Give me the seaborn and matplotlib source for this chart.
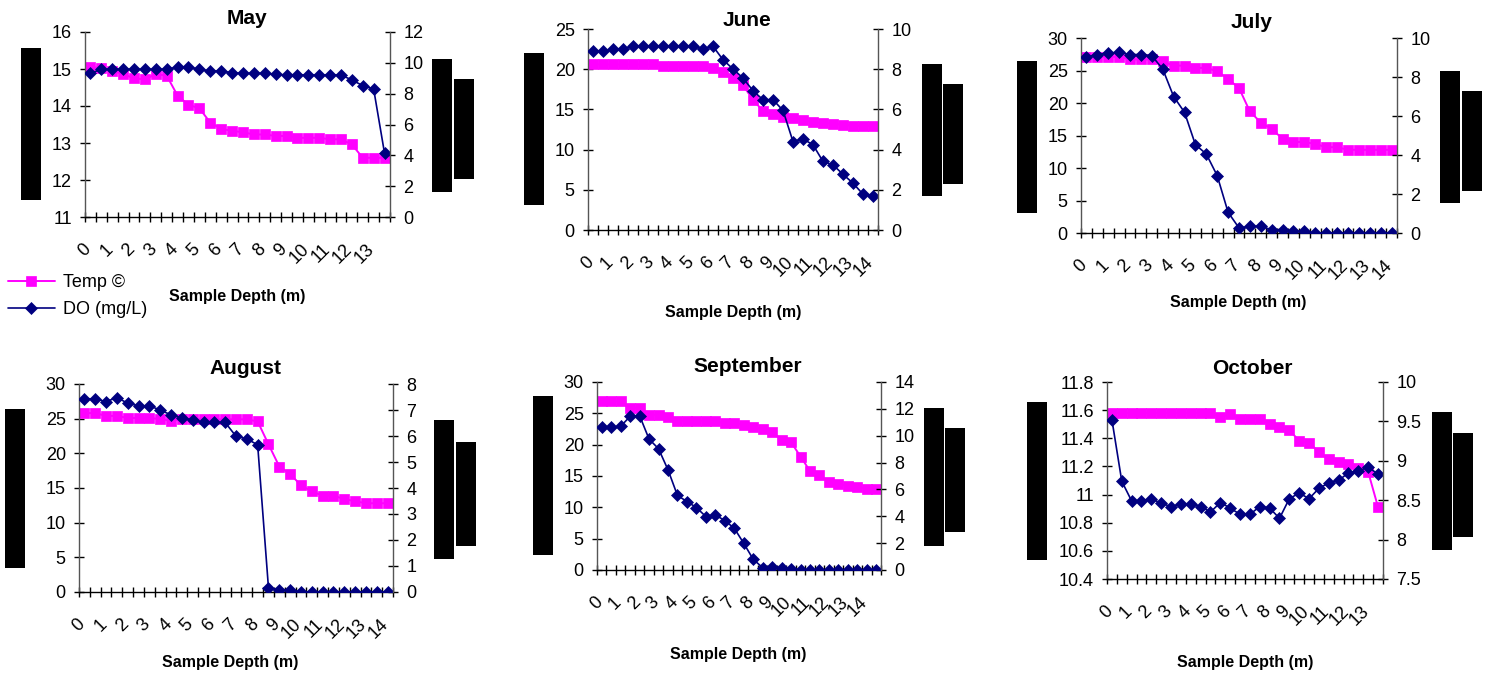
import matplotlib
matplotlib.use("Agg")
import matplotlib.pyplot as plt
import seaborn as sns
import pandas as pd
from matplotlib.patches import Rectangle
from matplotlib.ticker import FixedLocator, FuncFormatter, MultipleLocator
from matplotlib.transforms import ScaledTranslation

# ---------------- data ----------------
DEPTHS = [0, 0.5, 1, 1.5, 2, 2.5, 3, 3.5, 4, 4.5, 5, 5.5, 6, 6.5, 7, 7.5,
          8, 8.5, 9, 9.5, 10, 10.5, 11, 11.5, 12, 12.5, 13, 13.5, 14, 14.5]

MONTHS = ["May", "June", "July", "August", "September", "October"]

temp_may = [15.06, 15.02, 14.95, 14.86, 14.75, 14.72, 14.86, 14.82, 14.28, 14.03,
            13.94, 13.55, 13.38, 13.33, 13.29, 13.23, 13.23, 13.19, 13.19, 13.14,
            13.14, 13.14, 13.10, 13.10, 12.96, 12.60, 12.60, 12.60]
do_may = [9.32, 9.58, 9.58, 9.58, 9.58, 9.58, 9.58, 9.58, 9.73, 9.73,
          9.58, 9.47, 9.47, 9.36, 9.32, 9.32, 9.32, 9.25, 9.21, 9.21,
          9.21, 9.21, 9.21, 9.21, 8.89, 8.52, 8.30, 4.13]

temp_jun = [20.6, 20.6, 20.6, 20.6, 20.6, 20.6, 20.6, 20.35, 20.35, 20.35,
            20.35, 20.35, 20.1, 19.7, 18.9, 18.0, 16.2, 14.8, 14.4, 14.1,
            13.9, 13.7, 13.4, 13.3, 13.2, 13.1, 12.95, 12.95, 12.95]
do_jun = [8.89, 8.89, 9.0, 9.0, 9.14, 9.14, 9.14, 9.14, 9.14, 9.14,
          9.14, 9.0, 9.14, 8.47, 8.01, 7.56, 6.93, 6.48, 6.48, 5.95,
          4.40, 4.53, 4.24, 3.41, 3.24, 2.77, 2.33, 1.78, 1.69]

temp_jul = [27.1, 27.1, 27.1, 27.1, 26.7, 26.7, 26.7, 26.4, 25.75, 25.75,
            25.4, 25.4, 24.9, 23.7, 22.3, 18.7, 17.0, 16.0, 14.5, 14.0,
            14.0, 13.7, 13.2, 13.2, 12.8, 12.8, 12.8, 12.8, 12.8]
do_jul = [9.03, 9.15, 9.23, 9.26, 9.15, 9.15, 9.09, 8.41, 7.0, 6.19,
          4.53, 4.05, 2.94, 1.06, 0.26, 0.34, 0.34, 0.17, 0.17, 0.09,
          0.09, 0.0, 0.0, 0.0, 0.0, 0.0, 0.0, 0.0, 0.0]

temp_aug = [25.8, 25.8, 25.4, 25.4, 25.1, 25.1, 25.1, 24.95, 24.7, 24.9,
            24.9, 24.9, 24.9, 24.9, 24.9, 24.9, 24.6, 21.3, 18.1, 17.0,
            15.4, 14.5, 13.9, 13.9, 13.4, 13.1, 12.8, 12.8, 12.8]
do_aug = [7.43, 7.43, 7.32, 7.48, 7.26, 7.16, 7.16, 7.0, 6.81, 6.69,
          6.62, 6.52, 6.52, 6.52, 5.99, 5.89, 5.66, 0.15, 0.09, 0.09,
          0.0, 0.0, 0.0, 0.0, 0.0, 0.0, 0.0, 0.0, 0.0]

temp_sep = [26.9, 26.9, 26.9, 25.84, 25.84, 24.77, 24.77, 24.35, 23.8, 23.8,
            23.8, 23.8, 23.7, 23.44, 23.44, 23.18, 22.75, 22.5, 22.0, 20.8,
            20.4, 18.1, 15.8, 15.1, 14.1, 13.7, 13.4, 13.2, 12.95, 12.95]
do_sep = [10.62, 10.62, 10.7, 11.44, 11.49, 9.75, 9.03, 7.46, 5.55, 5.1,
          4.65, 3.98, 4.1, 3.68, 3.11, 1.99, 0.8, 0.17, 0.25, 0.17,
          0.1, 0.0, 0.0, 0.0, 0.0, 0.0, 0.0, 0.0, 0.0, 0.0]

temp_oct = [11.58, 11.58, 11.58, 11.58, 11.58, 11.58, 11.58, 11.58, 11.58, 11.58,
            11.58, 11.55, 11.57, 11.54, 11.54, 11.54, 11.50, 11.48, 11.46, 11.38,
            11.37, 11.30, 11.25, 11.23, 11.22, 11.19, 11.16, 10.91]
do_oct = [9.52, 8.74, 8.49, 8.49, 8.52, 8.46, 8.42, 8.45, 8.45, 8.42,
          8.35, 8.47, 8.40, 8.32, 8.32, 8.42, 8.40, 8.27, 8.52, 8.59,
          8.52, 8.65, 8.72, 8.75, 8.85, 8.87, 8.92, 8.83]

TEMP = [temp_may, temp_jun, temp_jul, temp_aug, temp_sep, temp_oct]
DO = [do_may, do_jun, do_jul, do_aug, do_sep, do_oct]

TEMP_LIMITS = [(11, 16, 1), (0, 25, 5), (0, 30, 5), (0, 30, 5), (0, 30, 5), (10.4, 11.8, 0.2)]
DO_LIMITS = [(0, 12, 2), (0, 10, 2), (0, 10, 2), (0, 8, 1), (0, 14, 2), (7.5, 10, 0.5)]

LEGEND_LABELS = ["Temp \u00a9", "DO (mg/L)"]
XLABEL = "Sample Depth (m)"

# ---------------- layout (pixels) ----------------
W, H = 1487, 675
BOXES = [(85, 32, 390, 217), (588, 29, 878, 230), (1081, 38, 1397, 233),
         (79, 384, 393, 592), (597, 382, 881, 570), (1107, 382, 1383, 579)]
TITLE_XY = [(247, 18), (747, 20), (1252, 23), (245, 368), (748, 367), (1252, 368)]
XLABEL_XY = [(237, 297), (733, 312), (1238, 302), (230, 662), (738, 654), (1245, 663)]
BARS = [
    [(21, 48, 41, 200), (432, 59, 452, 192), (454, 79, 474, 179)],
    [(524, 53, 544, 205), (922, 64, 942, 196), (943, 84, 963, 184)],
    [(1017, 61, 1037, 213), (1440, 71, 1460, 203), (1462, 91, 1482, 191)],
    [(5, 409, 25, 568), (434, 420, 454, 559), (456, 442, 476, 546)],
    [(533, 396, 553, 555), (924, 408, 944, 546), (945, 428, 965, 532)],
    [(1027, 402, 1047, 560), (1432, 412, 1452, 550), (1453, 433, 1473, 537)],
]

TEMP_COLOR = "#FF00FF"
DO_COLOR = "#000080"
SPINE_COLOR = "#555555"

sns.set_style("white")
plt.rcParams["font.family"] = ["Liberation Sans", "DejaVu Sans"]
plt.rcParams["text.color"] = "black"
plt.rcParams["axes.labelcolor"] = "black"
plt.rcParams["xtick.color"] = "black"
plt.rcParams["ytick.color"] = "black"

fig = plt.figure(figsize=(W / 100, H / 100), dpi=100)
fig.patch.set_facecolor("white")

fmt = FuncFormatter(lambda v, p: f"{round(v, 6):g}")
TICK_FS = 13

legend_handles = None
for i, month in enumerate(MONTHS):
    x0, y0, x1, y1 = BOXES[i]
    ax = fig.add_axes([x0 / W, 1 - y1 / H, (x1 - x0) / W, (y1 - y0) / H])
    ax2 = ax.twinx()
    n = len(TEMP[i])
    depths = DEPTHS[:n]
    df = pd.DataFrame({"depth": depths, "temp": TEMP[i], "do": DO[i]})

    sns.lineplot(data=df, x="depth", y="temp", ax=ax, color=TEMP_COLOR,
                 marker="s", markersize=7.6, markeredgecolor=TEMP_COLOR,
                 markeredgewidth=0.5, linewidth=1.4, legend=False)
    sns.lineplot(data=df, x="depth", y="do", ax=ax2, color=DO_COLOR,
                 marker="D", markersize=5.9, markeredgecolor=DO_COLOR,
                 markeredgewidth=0.5, linewidth=1.2, legend=False)
    if legend_handles is None:
        legend_handles = [ax.get_lines()[0], ax2.get_lines()[0]]

    ax.set_xlim(depths[0] - 0.25, depths[-1] + 0.25)
    lo, hi, st = TEMP_LIMITS[i]
    ax.set_ylim(lo, hi)
    ax.yaxis.set_major_locator(MultipleLocator(st))
    ax.yaxis.set_major_formatter(fmt)
    lo, hi, st = DO_LIMITS[i]
    ax2.set_ylim(lo, hi)
    ax2.yaxis.set_major_locator(MultipleLocator(st))
    ax2.yaxis.set_major_formatter(fmt)

    # category-boundary tick marks and integer-depth labels
    bounds = [d - 0.25 for d in depths] + [depths[-1] + 0.25]
    ax.xaxis.set_major_locator(FixedLocator(bounds))
    ax.xaxis.set_major_formatter(FuncFormatter(lambda v, p: ""))
    ints = [d for d in depths if float(d).is_integer()]
    ax.set_xticks(ints, minor=True)
    ax.set_xticklabels([str(int(d)) for d in ints], minor=True, rotation=45,
                       ha="right", va="top", rotation_mode="anchor")
    ax.tick_params(axis="x", which="major", direction="inout", length=7,
                   width=1, color="black", bottom=True)
    ax.tick_params(axis="x", which="minor", length=0, pad=17,
                   labelsize=TICK_FS, labelcolor="black", bottom=True)
    off = ScaledTranslation(-8 / 100, 0, fig.dpi_scale_trans)
    for lab in ax.xaxis.get_minorticklabels():
        lab.set_transform(lab.get_transform() + off)

    ax.tick_params(axis="y", direction="inout", length=7, width=1,
                   color="black", pad=6, labelsize=TICK_FS,
                   labelcolor="black", left=True)
    ax2.tick_params(axis="y", direction="inout", length=7, width=1,
                    color="black", pad=6, labelsize=TICK_FS,
                    labelcolor="black", right=True)

    ax.set_ylabel("")
    ax2.set_ylabel("")
    ax.set_xlabel("")

    for sp in ["top", "right"]:
        ax.spines[sp].set_visible(False)
    for sp in ["top", "left", "bottom"]:
        ax2.spines[sp].set_visible(False)
    ax.spines["left"].set_color(SPINE_COLOR)
    ax.spines["bottom"].set_color("black")
    ax2.spines["right"].set_color(SPINE_COLOR)
    for sp in ax.spines.values():
        sp.set_linewidth(1.0)
    ax2.spines["right"].set_linewidth(1.0)
    ax.grid(False)
    ax2.grid(False)

    tx, ty = TITLE_XY[i]
    fig.text(tx / W, 1 - ty / H, month, ha="center", va="center",
             fontsize=15, fontweight="bold", color="black")
    lx, ly = XLABEL_XY[i]
    fig.text(lx / W, 1 - ly / H, XLABEL, ha="center", va="center",
             fontsize=11.5, fontweight="bold", color="black")

    for (bx0, by0, bx1, by1) in BARS[i]:
        fig.add_artist(Rectangle((bx0 / W, 1 - by1 / H), (bx1 - bx0) / W,
                                 (by1 - by0) / H, transform=fig.transFigure,
                                 facecolor="black", edgecolor="none"))

fig.legend(handles=legend_handles, labels=LEGEND_LABELS, loc="upper left",
           bbox_to_anchor=(8 / W, 1 - 274 / H), frameon=False, fontsize=13,
           handlelength=2.6, handletextpad=0.45, labelspacing=0.55,
           borderpad=0, borderaxespad=0, numpoints=1, labelcolor="black")

fig.savefig("out.png", dpi=100, facecolor="white")
